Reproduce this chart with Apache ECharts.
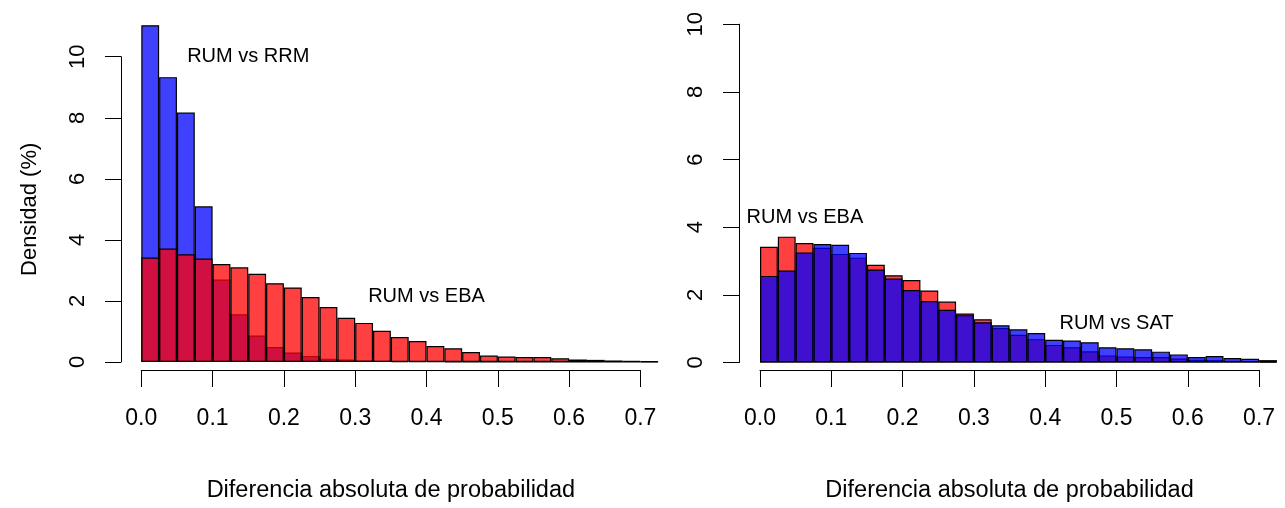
<!DOCTYPE html>
<html><head><meta charset="utf-8">
<script src="https://cdn.jsdelivr.net/npm/echarts@6/dist/echarts.min.js"></script>
<style>html,body{margin:0;padding:0;background:#fff}#c{width:1285px;height:508px}</style>
</head><body><div id="c"></div>
<script>
// ---- data ----
const binStarts = ['0.000','0.025','0.050','0.075','0.100','0.125','0.150','0.175','0.200','0.225',
  '0.250','0.275','0.300','0.325','0.350','0.375','0.400','0.425','0.450','0.475',
  '0.500','0.525','0.550','0.575','0.600','0.625','0.650','0.675','0.700'];
const rumVsRrm = [11.03, 9.33, 8.17, 5.10, 2.70, 1.56, 0.87, 0.49, 0.31, 0.20,
  0.11, 0.08, 0.05, 0.04, 0.03, 0.02, 0.02, 0.01, 0.01, 0.00,
  0.00, 0.00, 0.00, 0.00, 0.00, 0.00, 0.00, 0.00, 0.00];
const rumVsEba = [3.42, 3.72, 3.53, 3.39, 3.21, 3.10, 2.89, 2.58, 2.44, 2.13,
  1.80, 1.45, 1.28, 1.02, 0.82, 0.69, 0.52, 0.45, 0.33, 0.21,
  0.18, 0.16, 0.16, 0.12, 0.08, 0.07, 0.05, 0.04, 0.02];
const rumVsSat = [2.56, 2.72, 3.25, 3.50, 3.48, 3.24, 2.75, 2.48, 2.14, 1.82,
  1.56, 1.40, 1.19, 1.10, 0.98, 0.87, 0.67, 0.65, 0.60, 0.45,
  0.42, 0.39, 0.32, 0.24, 0.16, 0.19, 0.13, 0.11, 0.07];
const xTickLabels = ['0.0','0.1','0.2','0.3','0.4','0.5','0.6','0.7'];
const yTickLabels = ['0','2','4','6','8','10'];
const xTitle = 'Diferencia absoluta de probabilidad';
const yTitle = 'Densidad (%)';
const leftNotes = [{x: 0.15, y: 10, text: 'RUM vs RRM'}, {x: 0.40, y: 2, text: 'RUM vs EBA'}];
const rightNotes = [{x: 0.063, y: 4.17, text: 'RUM vs EBA'}, {x: 0.50, y: 1, text: 'RUM vs SAT'}];

// ---- layout ----
const FONT = "'Liberation Sans', Arial, Helvetica, sans-serif";
const PX_PER_UNIT = 713;
const BIN_W = 0.025;
const barsWidth = binStarts.length * BIN_W * PX_PER_UNIT;
const xMax = parseFloat(xTickLabels[xTickLabels.length - 1]);
const ticksWidth = xMax * PX_PER_UNIT;
const yMax = parseFloat(yTickLabels[yTickLabels.length - 1]);
const panels = [
  {left: 141.3, top: 56.7, bottom: 362, yOff: 20.3, xOff: 13, showYName: true,
   series: [{data: rumVsRrm, color: 'rgba(0,0,255,0.75)'}, {data: rumVsEba, color: 'rgba(255,0,0,0.75)'}],
   notes: leftNotes},
  {left: 760, top: 24.2, bottom: 362.5, yOff: 21, xOff: 13.5, showYName: false,
   series: [{data: rumVsEba, color: 'rgba(255,0,0,0.75)'}, {data: rumVsSat, color: 'rgba(0,0,255,0.75)'}],
   notes: rightNotes}
];

const grid = [], xAxis = [], yAxis = [], series = [];
panels.forEach((p, i) => {
  const h = p.bottom - p.top;
  const gBars = i * 2, gTicks = i * 2 + 1;
  grid.push({left: p.left, top: p.top, width: barsWidth, height: h, containLabel: false});
  grid.push({left: p.left, top: p.top, width: ticksWidth, height: h, containLabel: false});
  xAxis.push({type: 'category', gridIndex: gBars, data: binStarts, show: false, boundaryGap: true});
  xAxis.push({type: 'value', gridIndex: gTicks, min: 0, max: xMax, interval: 0.1, position: 'bottom',
    offset: p.xOff,
    axisLine: {show: true, onZero: false, lineStyle: {color: '#000', width: 1}},
    axisTick: {show: true, inside: false, length: 17, lineStyle: {color: '#000', width: 1}},
    axisLabel: {show: true, color: '#000', fontSize: 23, fontFamily: FONT, margin: 37,
      showMinLabel: true, showMaxLabel: true, hideOverlap: false,
      formatter: v => xTickLabels[Math.round(v * 10)]},
    splitLine: {show: false},
    name: xTitle, nameLocation: 'middle', nameGap: 109,
    nameTextStyle: {color: '#000', fontSize: 23.5, fontFamily: FONT}
  });
  yAxis.push({type: 'value', gridIndex: gBars, min: 0, max: yMax, interval: 2, position: 'left',
    offset: p.yOff,
    axisLine: {show: true, onZero: false, lineStyle: {color: '#000', width: 1}},
    axisTick: {show: true, inside: false, length: 16, lineStyle: {color: '#000', width: 1}},
    axisLabel: {show: true, color: '#000', fontSize: 22, fontFamily: FONT, rotate: 90, margin: 32,
      showMinLabel: true, showMaxLabel: true, hideOverlap: false,
      formatter: v => yTickLabels[Math.round(v / 2)]},
    splitLine: {show: false},
    name: p.showYName ? yTitle : '', nameLocation: 'middle', nameRotate: 90, nameGap: 80,
    nameTextStyle: {color: '#000', fontSize: 22, fontFamily: FONT}
  });
  yAxis.push({type: 'value', gridIndex: gTicks, min: 0, max: yMax, show: false});
  p.series.forEach(s => {
    series.push({type: 'bar', xAxisIndex: gBars, yAxisIndex: gBars, data: s.data,
      barCategoryGap: '0%', barGap: '-100%', clip: false, silent: true,
      itemStyle: {color: s.color, borderColor: '#000', borderWidth: 1.2}});
  });
  series.push({type: 'scatter', xAxisIndex: gTicks, yAxisIndex: gTicks, symbolSize: 0, clip: false, silent: true,
    itemStyle: {color: '#000', opacity: 1},
    data: p.notes.map(n => ({value: [n.x, n.y], name: n.text})),
    label: {show: true, position: 'inside', formatter: d => d.name, color: '#000', opacity: 1,
      textBorderWidth: 0, textBorderColor: 'transparent',
      fontSize: 20, fontFamily: FONT},
    z: 10});
});

const chart = echarts.init(document.getElementById('c'), null, {renderer: 'canvas'});
chart.setOption({animation: false, backgroundColor: '#fff', grid, xAxis, yAxis, series,
  tooltip: {show: false}});
</script>
</body></html>
